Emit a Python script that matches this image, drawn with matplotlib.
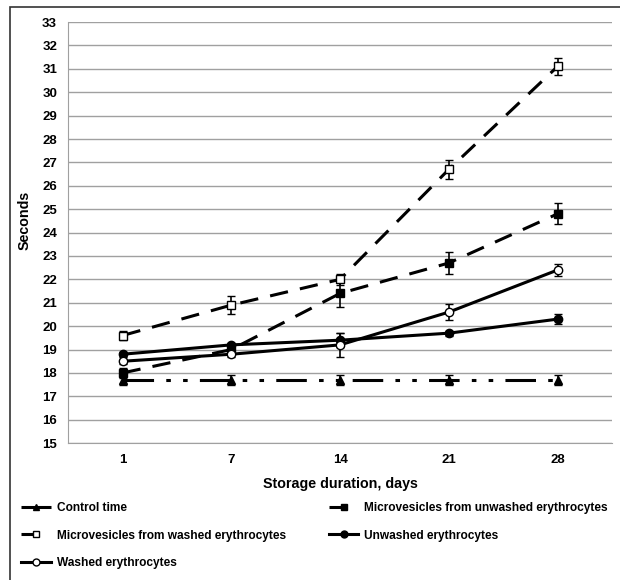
import matplotlib.pyplot as plt
from matplotlib.patches import Rectangle
from matplotlib.lines import Line2D

plt.rcParams['font.family'] = ['Liberation Sans', 'DejaVu Sans']
plt.rcParams['font.weight'] = 'bold'

days = ["1", "7", "14", "21", "28"]

control = [17.7, 17.7, 17.7, 17.7, 17.7]
control_err = [0.2, 0.2, 0.2, 0.2, 0.2]
mv_unwashed = [18.0, 19.0, 21.4, 22.7, 24.8]
mv_unwashed_err = [0.2, 0.15, 0.6, 0.45, 0.45]
mv_washed = [19.6, 20.9, 22.0, 26.7, 31.1]
mv_washed_err = [0.2, 0.4, 0.25, 0.4, 0.35]
unwashed = [18.8, 19.2, 19.4, 19.7, 20.3]
unwashed_err = [0.1, 0.1, 0.3, 0.1, 0.2]
washed = [18.5, 18.8, 19.2, 20.6, 22.4]
washed_err = [0.1, 0.1, 0.5, 0.35, 0.25]

fig = plt.figure(figsize=(6.2, 5.8), dpi=100)
ax = fig.add_axes([0.11, 0.236, 0.877, 0.726])

x = list(range(len(days)))
series = [
    ('Control time', control, control_err, '^', 'black', (10, 4, 1.5, 4, 1.5, 4)),
    ('Microvesicles from unwashed erythrocytes', mv_unwashed, mv_unwashed_err, 's', 'black', (6, 4)),
    ('Microvesicles from washed erythrocytes', mv_washed, mv_washed_err, 's', 'white', (6, 4)),
    ('Unwashed erythrocytes', unwashed, unwashed_err, 'o', 'black', None),
    ('Washed erythrocytes', washed, washed_err, 'o', 'white', None),
]

handles = {}
for name, vals, err, mk, fc, dash in series:
    kw = dict(dashes=dash) if dash else {}
    ax.errorbar(x, vals, yerr=err, color='black', ecolor='black', elinewidth=1.2,
                capsize=3, capthick=1.2, lw=2.2, marker=mk, markersize=6,
                mfc=fc, mec='black', mew=1, **kw)
    handles[name] = Line2D([], [], color='black', lw=2.2, marker=mk, markersize=5,
                           mfc=fc, mec='black', mew=1, **kw)

ax.set_xlim(-0.5, len(days) - 0.5)
ax.set_ylim(15, 33)
ax.set_yticks(range(15, 34))
ax.set_xticks(x)
ax.set_xticklabels(days)
ax.tick_params(axis='both', length=0, labelsize=9.5, pad=8)
ax.grid(axis='y', color='#a0a0a0', lw=1)
ax.set_axisbelow(True)
for s in ['top', 'right']:
    ax.spines[s].set_visible(False)
for s in ['left', 'bottom']:
    ax.spines[s].set_color('#a0a0a0')

ax.set_xlabel('Storage duration, days', fontsize=10.3, fontweight='bold', labelpad=8)
ax.set_ylabel('Seconds', fontsize=10.3, fontweight='bold')
ax.yaxis.set_label_coords(-0.068, 0.53)

# legend filled column by column, so reorder to read row by row
order = ['Control time', 'Microvesicles from washed erythrocytes', 'Washed erythrocytes',
         'Microvesicles from unwashed erythrocytes', 'Unwashed erythrocytes']
fig.legend([handles[n] for n in order], order, loc='upper left',
           bbox_to_anchor=(0.016, 0.153), ncol=2, frameon=False, fontsize=8.6,
           handlelength=2.5, handletextpad=0.5, columnspacing=3.6, labelspacing=1.3)

fig.patches.append(Rectangle((0.016, -0.01), 1.0, 0.998, transform=fig.transFigure,
                             fill=False, ec='#333333', lw=1.2))

fig.savefig('out.png', dpi=100)
